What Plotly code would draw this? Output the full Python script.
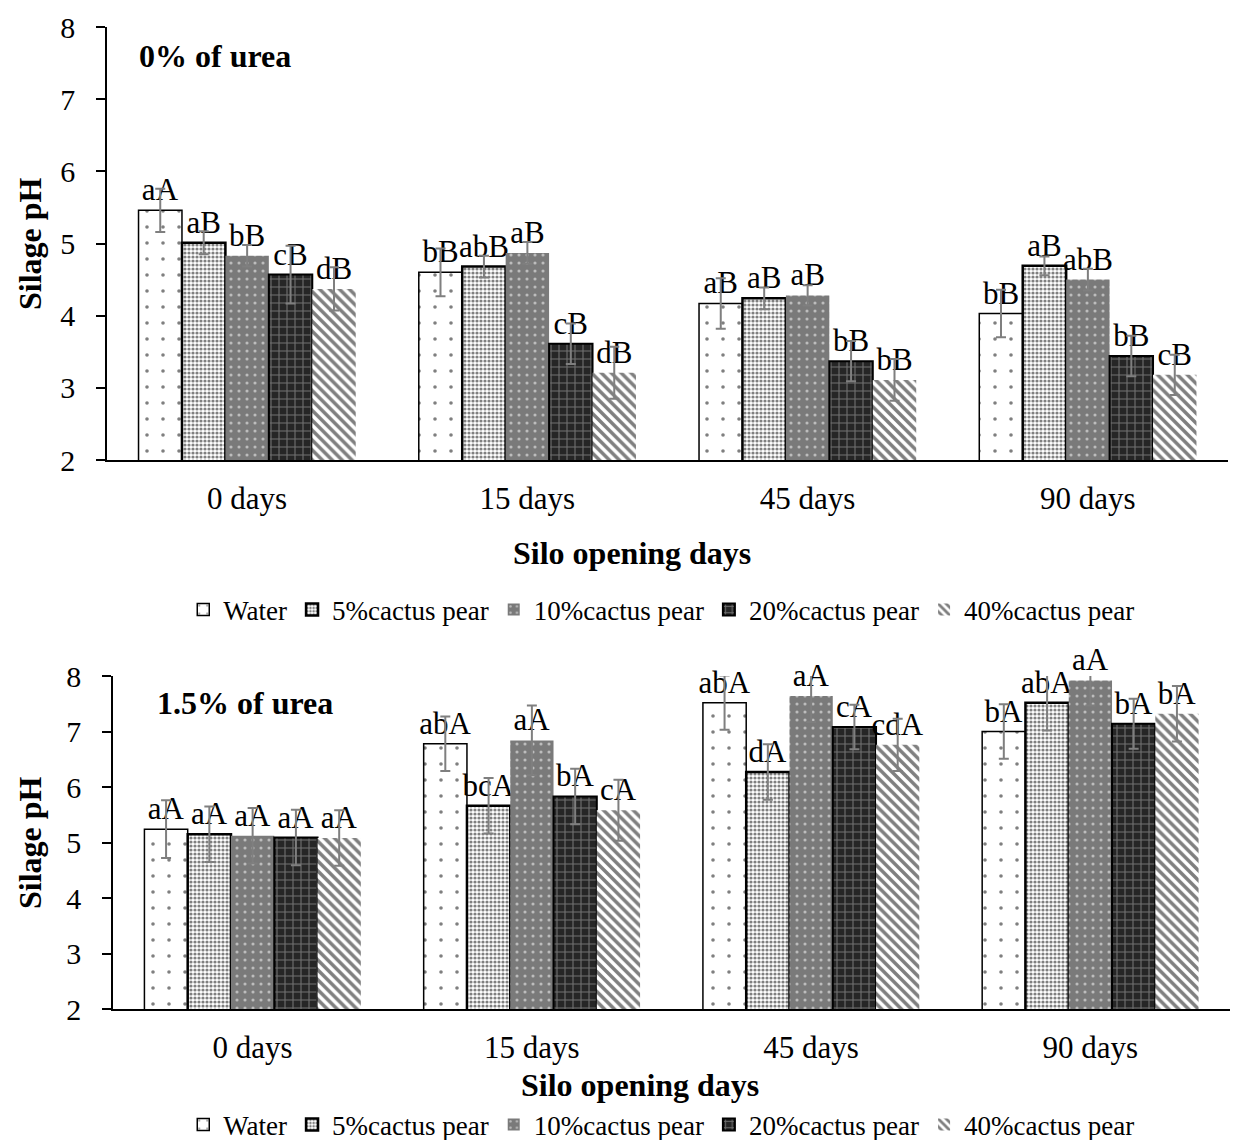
import plotly.graph_objects as go

categories = ["0 days", "15 days", "45 days", "90 days"]
series_names = ["Water", "5%cactus pear", "10%cactus pear", "20%cactus pear", "40%cactus pear"]

# 0% urea
top_water = [5.46, 4.60, 4.17, 4.03]
top_cp5 = [5.01, 4.68, 4.24, 4.69]
top_cp10 = [4.83, 4.87, 4.28, 4.50]
top_cp20 = [4.57, 3.61, 3.37, 3.44]
top_cp40 = [4.37, 3.21, 3.11, 3.18]

top_err_water = [0.30, 0.33, 0.35, 0.33]
top_err_cp5 = [0.16, 0.15, 0.15, 0.13]
top_err_cp10 = [0.15, 0.15, 0.14, 0.15]
top_err_cp20 = [0.40, 0.28, 0.28, 0.28]
top_err_cp40 = [0.30, 0.36, 0.29, 0.28]

top_lab_water = ["aA", "bB", "aB", "bB"]
top_lab_cp5 = ["aB", "abB", "aB", "aB"]
top_lab_cp10 = ["bB", "aB", "aB", "abB"]
top_lab_cp20 = ["cB", "cB", "bB", "bB"]
top_lab_cp40 = ["dB", "dB", "bB", "cB"]

# 1.5% urea
bot_water = [5.24, 6.78, 7.52, 7.00]
bot_cp5 = [5.15, 5.66, 6.27, 7.52]
bot_cp10 = [5.12, 6.84, 7.64, 7.92]
bot_cp20 = [5.09, 5.83, 7.08, 7.14]
bot_cp40 = [5.08, 5.58, 6.76, 7.32]

bot_err_water = [0.52, 0.49, 0.49, 0.49]
bot_err_cp5 = [0.50, 0.50, 0.50, 0.50]
bot_err_cp10 = [0.50, 0.63, 0.47, 0.45]
bot_err_cp20 = [0.50, 0.50, 0.40, 0.45]
bot_err_cp40 = [0.50, 0.55, 0.47, 0.50]

bot_lab_water = ["aA", "abA", "abA", "bA"]
bot_lab_cp5 = ["aA", "bcA", "dA", "abA"]
bot_lab_cp10 = ["aA", "aA", "aA", "aA"]
bot_lab_cp20 = ["aA", "bA", "cA", "bA"]
bot_lab_cp40 = ["aA", "cA", "cdA", "bA"]

FONT = "Liberation Serif, Times New Roman, serif"

styles = [
    dict(pattern=dict(shape=".", size=16, solidity=0.04, fgcolor="black", bgcolor="white"),
         line=dict(color="black", width=1.5)),
    dict(pattern=dict(shape=".", size=4, solidity=0.5, fgcolor="black", bgcolor="white"),
         line=dict(color="black", width=2.5)),
    dict(pattern=dict(shape=".", size=8, solidity=0.12, fgcolor="white", bgcolor="#7a7a7a"),
         line=dict(color="rgba(0,0,0,0)", width=0)),
    dict(pattern=dict(shape="+", size=8, solidity=0.25, fgcolor="#bdbdbd", bgcolor="#262626"),
         line=dict(color="black", width=2)),
    dict(pattern=dict(shape="\\", size=7, solidity=0.5, fgcolor="black", bgcolor="white"),
         line=dict(color="rgba(0,0,0,0)", width=0)),
]

top_vals = [top_water, top_cp5, top_cp10, top_cp20, top_cp40]
top_errs = [top_err_water, top_err_cp5, top_err_cp10, top_err_cp20, top_err_cp40]
top_labs = [top_lab_water, top_lab_cp5, top_lab_cp10, top_lab_cp20, top_lab_cp40]
bot_vals = [bot_water, bot_cp5, bot_cp10, bot_cp20, bot_cp40]
bot_errs = [bot_err_water, bot_err_cp5, bot_err_cp10, bot_err_cp20, bot_err_cp40]
bot_labs = [bot_lab_water, bot_lab_cp5, bot_lab_cp10, bot_lab_cp20, bot_lab_cp40]

fig = go.Figure()

def add_panel(vals, errs, labs, xa, ya, legend):
    for i, name in enumerate(series_names):
        st = styles[i]
        fig.add_trace(go.Bar(
            x=categories, y=vals[i], name=name,
            xaxis=xa, yaxis=ya, legend=legend,
            marker=dict(color="white", pattern=st["pattern"], line=st["line"]),
            error_y=dict(type="data", array=errs[i], visible=True,
                         color="#7f7f7f", thickness=2, width=5),
            text=labs[i], textposition="outside", cliponaxis=False,
            constraintext="none",
            textfont=dict(family=FONT, size=31, color="black"),
        ))

add_panel(top_vals, top_errs, top_labs, "x", "y", "legend")
add_panel(bot_vals, bot_errs, bot_labs, "x2", "y2", "legend2")

xtick_font = dict(family=FONT, size=31, color="black")
ytick_font = dict(family=FONT, size=30, color="black")
leg_font = dict(family=FONT, size=27, color="black")

fig.update_layout(
    width=1236, height=1140,
    margin=dict(l=0, r=0, t=0, b=0, autoexpand=False),
    paper_bgcolor="white", plot_bgcolor="white",
    barmode="group", bargap=0.225, bargroupgap=0,
    showlegend=True,
    font=dict(family=FONT, color="black"),
    xaxis=dict(domain=[107/1236, 1228/1236], anchor="y", showline=True, linecolor="black",
               linewidth=1.5, ticks="", showgrid=False, tickfont=xtick_font,
               ticklabelstandoff=10, automargin=False),
    yaxis=dict(domain=[1-460/1140, 1-27/1140], anchor="x", range=[2, 8], dtick=1,
               showline=True, linecolor="black", linewidth=1.5, ticks="outside",
               ticklen=9, tickcolor="black", tickwidth=1.5, showgrid=False, zeroline=False,
               tickfont=ytick_font, ticklabelstandoff=15, automargin=False),
    xaxis2=dict(domain=[113/1236, 1230/1236], anchor="y2", showline=True, linecolor="black",
                linewidth=1.5, ticks="", showgrid=False, tickfont=xtick_font,
                ticklabelstandoff=10, automargin=False),
    yaxis2=dict(domain=[1-1009/1140, 1-676/1140], anchor="x2", range=[2, 8], dtick=1,
                showline=True, linecolor="black", linewidth=1.5, ticks="outside",
                ticklen=9, tickcolor="black", tickwidth=1.5, showgrid=False, zeroline=False,
                tickfont=ytick_font, ticklabelstandoff=15, automargin=False),
    legend=dict(orientation="h", x=0.535, xanchor="center", y=1-610/1140, yanchor="middle",
                font=leg_font, bgcolor="rgba(0,0,0,0)", tracegroupgap=0),
    legend2=dict(orientation="h", x=0.535, xanchor="center", y=1-1125/1140, yanchor="middle",
                 font=leg_font, bgcolor="rgba(0,0,0,0)", tracegroupgap=0),
)

ann_title = dict(family=FONT, size=32, color="black")
fig.add_annotation(text="<b>Silo opening days</b>", xref="paper", yref="paper",
                   x=632/1236, y=1-553/1140, showarrow=False, font=ann_title,
                   xanchor="center", yanchor="middle")
fig.add_annotation(text="<b>Silo opening days</b>", xref="paper", yref="paper",
                   x=640/1236, y=1-1085/1140, showarrow=False, font=ann_title,
                   xanchor="center", yanchor="middle")
fig.add_annotation(text="<b>Silage pH</b>", xref="paper", yref="paper",
                   x=30/1236, y=1-244/1140, showarrow=False, font=ann_title,
                   textangle=-90, xanchor="center", yanchor="middle")
fig.add_annotation(text="<b>Silage pH</b>", xref="paper", yref="paper",
                   x=30/1236, y=1-843/1140, showarrow=False, font=ann_title,
                   textangle=-90, xanchor="center", yanchor="middle")
fig.add_annotation(text="<b>0% of urea</b>", xref="paper", yref="paper",
                   x=137/1236, y=1-56/1140, showarrow=False, font=ann_title,
                   xanchor="left", yanchor="middle")
fig.add_annotation(text="<b>1.5% of urea</b>", xref="paper", yref="paper",
                   x=155/1236, y=1-703/1140, showarrow=False, font=ann_title,
                   xanchor="left", yanchor="middle")

fig.write_html("out.html")
